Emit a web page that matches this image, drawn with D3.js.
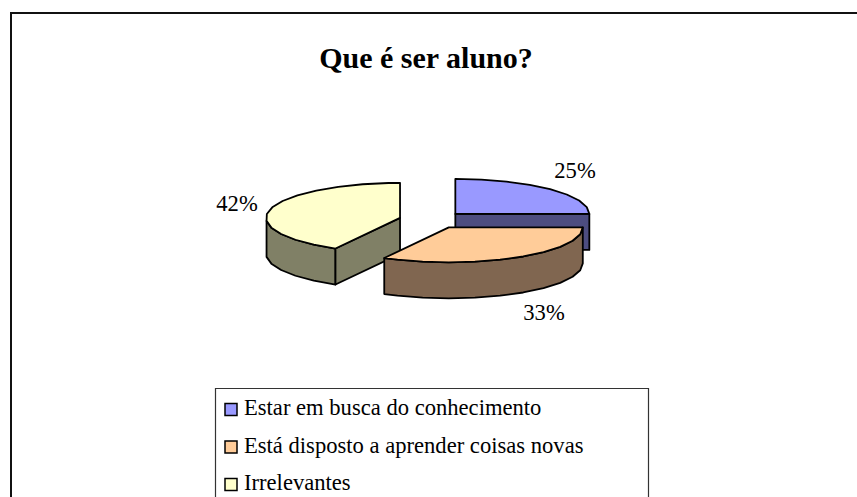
<!DOCTYPE html>
<html><head><meta charset="utf-8">
<script src="https://cdn.jsdelivr.net/npm/d3@7"></script>
<style>html,body{margin:0;padding:0;background:#fff;overflow:hidden}svg{display:block}text{font-family:"Liberation Serif",serif;fill:#000}</style>
</head><body><svg id="c" width="857" height="497"></svg>
<script>
const title = "Que é ser aluno?";
const categories = ["Estar em busca do conhecimento","Está disposto a aprender coisas novas","Irrelevantes"];
const values = [25,33,42];
const topColors = ["#9999FF","#FFCC99","#FFFFCC"];
const sideColors = ["#4D4D80","#806650","#808066"];
const labelPos = [[575,178],[544,320],[237,211]];

const svg = d3.select("#c");
svg.append("path").attr("d","M11,497V13H857").attr("fill","none").attr("stroke","#111").attr("stroke-width",2);
svg.append("text").attr("x",426).attr("y",68).attr("text-anchor","middle").attr("font-weight","bold").attr("font-size",30).text(title);

const RX=134, RY=35, DEPTH=36, EXPLODE=33, TILT=0.26, BX=432, BY=220;
const xs = d3.scaleLinear().domain([-1,1]).range([-RX,RX]);
const ys = d3.scaleLinear().domain([-1,1]).range([-RY,RY]);
const arcs = d3.pie().value(d=>d).sort(null)(values);
const line = d3.line();
const STEP = Math.PI/16;
[0,2,1].forEach(i=>{
  const a = arcs[i], mid=(a.startAngle+a.endAngle)/2;
  const cx = BX+EXPLODE*Math.sin(mid), cy = BY-EXPLODE*TILT*Math.cos(mid);
  const P = (t,dz=0)=>[cx+xs(Math.sin(t)), cy-ys(Math.cos(t))+dz];
  const angles=[]; for(let t=a.startAngle;t<a.endAngle-1e-6;t+=STEP)angles.push(t); angles.push(a.endAngle);
  const g = svg.append("g").attr("stroke","#000").attr("stroke-width",1.8).attr("stroke-linejoin","round");
  const front = angles.filter(t=>Math.cos(t)<=1e-6);
  if(front.length>1){
    const pts = front.map(t=>P(t)).concat(front.slice().reverse().map(t=>P(t,DEPTH)));
    g.append("path").attr("d",line(pts)+"Z").attr("fill",sideColors[i]);
  }
  // the one radial wall of each slice that faces the viewer
  const wall = i===0 ? a.endAngle : i===2 ? a.startAngle : null;
  if(wall!==null){
    g.append("path").attr("d",line([[cx,cy],P(wall),P(wall,DEPTH),[cx,cy+DEPTH]])+"Z").attr("fill",sideColors[i]);
  }
  g.append("path").attr("d",line([[cx,cy],...angles.map(t=>P(t))])+"Z").attr("fill",topColors[i]);
  svg.append("text").attr("x",labelPos[i][0]).attr("y",labelPos[i][1]).attr("text-anchor","middle").attr("font-size",22.6).text(values[i]+"%");
});

svg.append("path").attr("d","M215.5,497V388.5H648.5V497").attr("fill","none").attr("stroke","#333").attr("stroke-width",1.2);
const legendY = d3.scalePoint().domain(categories).range([409.5,484.5]);
categories.forEach((c,i)=>{
  const y=legendY(c);
  svg.append("rect").attr("x",225).attr("y",y-6).attr("width",12).attr("height",12).attr("fill",topColors[i]).attr("stroke","#000").attr("stroke-width",1.5);
  svg.append("text").attr("x",244).attr("y",y+5.5).attr("font-size",22.6).text(c);
});
</script></body></html>
